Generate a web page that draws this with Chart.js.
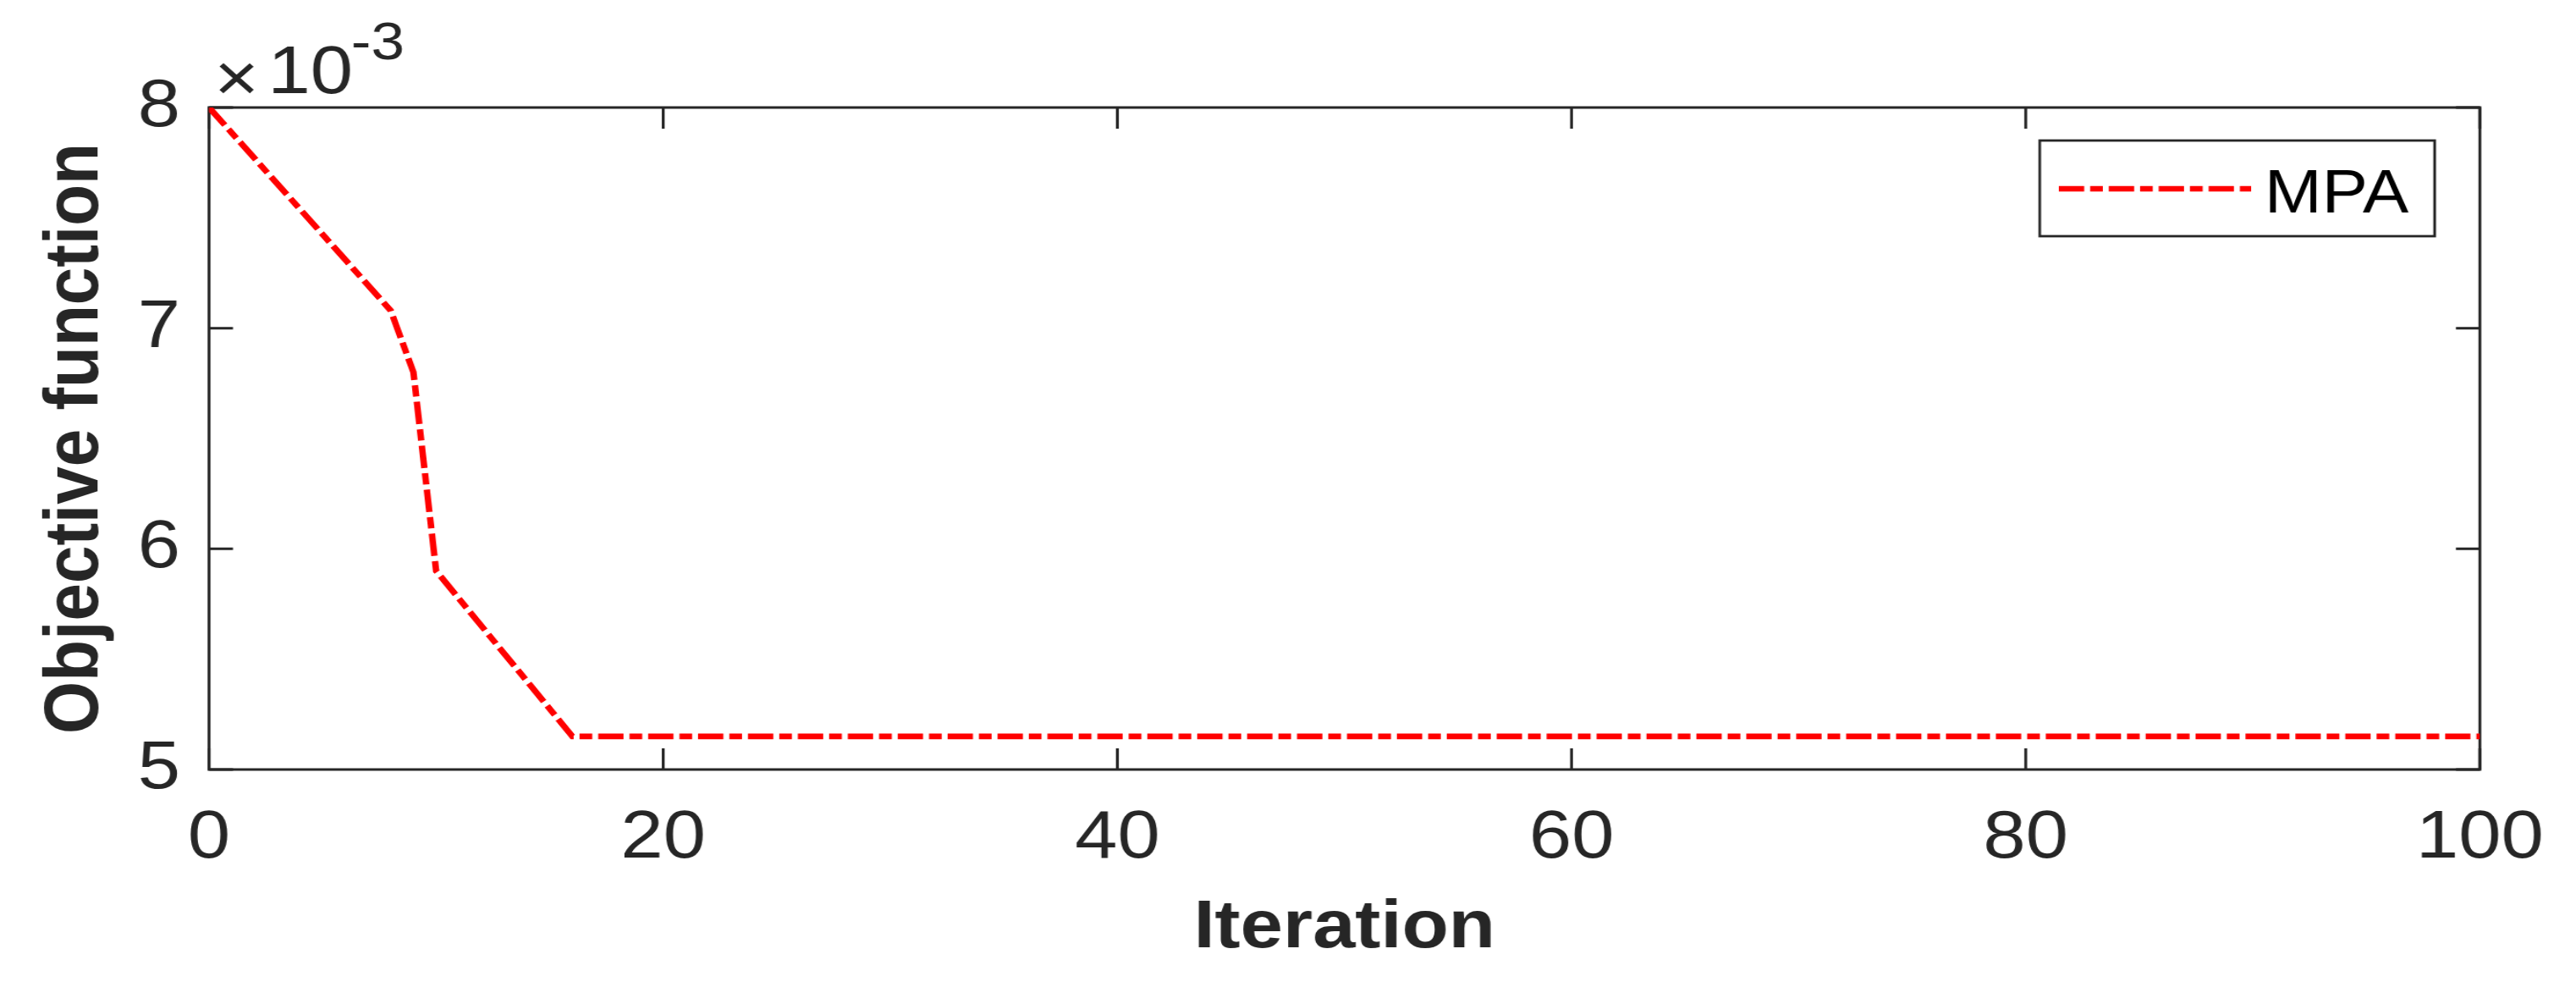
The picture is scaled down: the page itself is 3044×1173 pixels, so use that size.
<!DOCTYPE html>
<html lang="en">
<head>
<meta charset="UTF-8">
<title>MPA convergence</title>
<style>
  html, body { margin: 0; padding: 0; background: #fff; overflow: hidden; }
  /* the reference figure is stretched sideways, so draw it narrower and widen it */
  #wrap { width: 2694px; height: 1173px; transform: scaleX(1.13); transform-origin: 0 0; }
</style>
</head>
<body>
<div id="wrap"><canvas id="chart" width="2694" height="1173"></canvas></div>
<script src="https://cdn.jsdelivr.net/npm/chart.js@4.4.0/dist/chart.umd.min.js"></script>
<script>
const seriesName = "MPA";
const iterations = [0, 8, 9, 10, 16, 100];
const objective = [8.0e-3, 7.08e-3, 6.80e-3, 5.90e-3, 5.15e-3, 5.15e-3];
const xTicks = [0, 20, 40, 60, 80, 100];
const yTicks = [5e-3, 6e-3, 7e-3, 8e-3];
const yExponent = -3;

const FONT = '"Liberation Sans", Arial, Helvetica, sans-serif';
const INK = "#262626";
const lineDash = [26.5, 6.2, 13.3, 6.2];

// box round the plot with inward ticks, like the matlab axes
const axesBox = {
    id: "axesBox",
    beforeDatasetsDraw(chart) {
        const {ctx, chartArea: a, scales: {x, y}} = chart;
        const tl = 25;
        ctx.save();
        ctx.strokeStyle = INK;
        ctx.lineWidth = 3;
        ctx.strokeRect(a.left, a.top, a.right - a.left, a.bottom - a.top);
        ctx.beginPath();
        xTicks.forEach(v => {
            const px = x.getPixelForValue(v);
            ctx.moveTo(px, a.bottom); ctx.lineTo(px, a.bottom - tl);
            ctx.moveTo(px, a.top); ctx.lineTo(px, a.top + tl);
        });
        yTicks.forEach(v => {
            const py = y.getPixelForValue(v);
            ctx.moveTo(a.left, py); ctx.lineTo(a.left + tl, py);
            ctx.moveTo(a.right, py); ctx.lineTo(a.right - tl, py);
        });
        ctx.stroke();
        ctx.restore();
    },
    afterDraw(chart) {
        const {ctx} = chart;
        ctx.save();
        ctx.fillStyle = INK;
        ctx.textBaseline = "alphabetic";
        // exponent above the y axis
        ctx.font = `80px ${FONT}`;
        ctx.fillText("\u00d7", 224, 119);
        ctx.fillText("10", 280, 110);
        ctx.font = `63px ${FONT}`;
        ctx.fillText(String(yExponent), 367, 70);

        // legend
        const ds = chart.data.datasets[0];
        ctx.fillStyle = "#fff";
        ctx.fillRect(2133, 166, 413, 113);
        ctx.strokeStyle = INK;
        ctx.lineWidth = 2.8;
        ctx.strokeRect(2133, 166, 413, 113);
        ctx.strokeStyle = ds.borderColor;
        ctx.lineWidth = ds.borderWidth;
        ctx.setLineDash(ds.borderDash);
        ctx.beginPath();
        ctx.moveTo(2153, 223);
        ctx.lineTo(2354, 223);
        ctx.stroke();
        ctx.setLineDash([]);
        ctx.fillStyle = "#000";
        ctx.font = `72px ${FONT}`;
        ctx.fillText(ds.label, 2368, 251);
        ctx.restore();
    }
};

new Chart(document.getElementById("chart"), {
    type: "line",
    data: {
        datasets: [{
            label: seriesName,
            data: iterations.map((it, i) => ({x: it, y: objective[i]})),
            borderColor: "#ff0000",
            borderWidth: 6.7,
            borderDash: lineDash,
            pointRadius: 0,
            tension: 0,
            fill: false
        }]
    },
    options: {
        responsive: false,
        animation: false,
        devicePixelRatio: 1,
        layout: { padding: { top: 127, right: 96.7, bottom: 0, left: 0 } },
        plugins: { legend: { display: false }, tooltip: { enabled: false } },
        scales: {
            x: {
                type: "linear",
                min: 0,
                max: 100,
                afterBuildTicks: s => { s.ticks = xTicks.map(v => ({value: v})); },
                afterFit: s => { s.height = 264; },
                grid: { display: false, drawTicks: false },
                border: { display: false },
                ticks: {
                    font: { family: FONT, size: 80 },
                    color: INK,
                    padding: 34,
                    maxRotation: 0,
                    autoSkip: false
                },
                title: {
                    display: true,
                    text: "Iteration",
                    color: INK,
                    font: { family: FONT, size: 80, weight: "bold" },
                    padding: { top: 0, bottom: 28 }
                }
            },
            y: {
                type: "linear",
                min: 5e-3,
                max: 8e-3,
                afterBuildTicks: s => { s.ticks = yTicks.map(v => ({value: v})); },
                afterFit: s => { s.width = 218.6; },
                grid: { display: false, drawTicks: false },
                border: { display: false },
                ticks: {
                    font: { family: FONT, size: 80 },
                    color: INK,
                    padding: 30,
                    callback: v => Math.round(v * Math.pow(10, -yExponent))
                },
                title: {
                    display: true,
                    text: "Objective function",
                    color: INK,
                    font: { family: FONT, size: 80, weight: "bold" },
                    padding: { top: 32, bottom: 0 }
                }
            }
        }
    },
    plugins: [axesBox]
});
</script>
</body>
</html>
